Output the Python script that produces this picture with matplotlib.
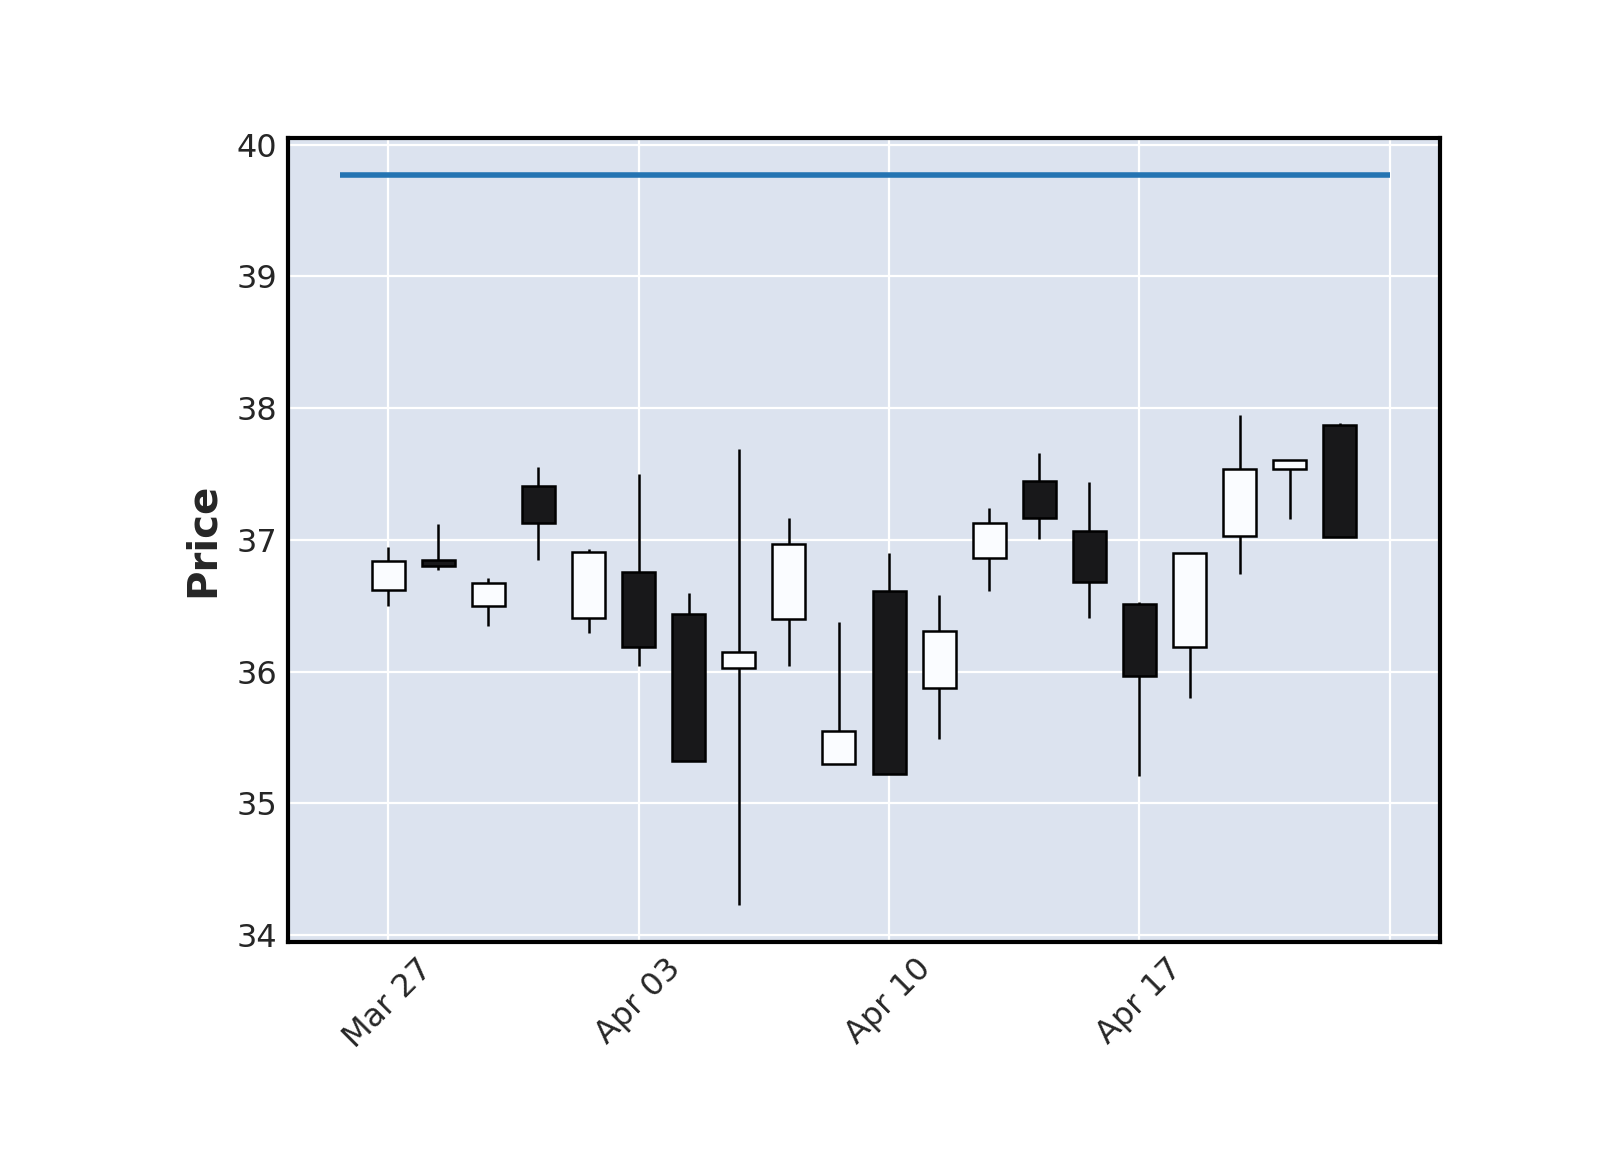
import numpy as np
import pandas as pd
import matplotlib
matplotlib.use("Agg")
import matplotlib.pyplot as plt

# === daily OHLC data ===
dates = pd.bdate_range("2017-03-27", periods=20)
opens = [36.62, 36.85, 36.50, 37.41, 36.41, 36.76, 36.44, 36.03, 36.40, 35.30,
         36.61, 35.88, 36.86, 37.45, 37.07, 36.51, 36.19, 37.03, 37.54, 37.87]
highs = [36.95, 37.12, 36.71, 37.55, 36.93, 37.50, 36.60, 37.69, 37.17, 36.38,
         36.90, 36.58, 37.24, 37.66, 37.44, 36.53, 36.90, 37.95, 37.61, 37.89]
lows = [36.50, 36.77, 36.35, 36.85, 36.29, 36.04, 35.32, 34.23, 36.04, 35.30,
        35.22, 35.49, 36.61, 37.01, 36.41, 35.21, 35.80, 36.74, 37.16, 37.02]
closes = [36.84, 36.80, 36.67, 37.13, 36.91, 36.19, 35.32, 36.15, 36.97, 35.55,
          35.22, 36.31, 37.13, 37.17, 36.68, 35.97, 36.90, 37.54, 37.61, 37.02]
level = 39.77
tick_idx = [0, 5, 10, 15, 20]

# === plot ===
fig = plt.figure(figsize=(16, 11.5), dpi=100)
ax = fig.add_axes([0.18, 0.181, 0.72, 0.699])
ax.set_facecolor("#DCE3EF")

x = np.arange(len(dates))
o = np.array(opens)
c = np.array(closes)
up = c >= o

ax.vlines(x, lows, highs, color="k", linewidth=1.8, zorder=2)
ax.bar(x, np.abs(c - o), bottom=np.minimum(o, c), width=0.66,
       color=np.where(up, "#FAFCFF", "#18181A"), edgecolor="k",
       linewidth=1.8, zorder=3)

ax.plot([-0.96, 20], [level, level], color="#2474b2", linewidth=4,
        solid_capstyle="butt", zorder=4)

ax.set_xlim(-2.0, 21.0)
ax.set_ylim(33.95, 40.05)
ax.set_xticks(tick_idx)
labels = [dates[i].strftime("%b %d") if i < len(dates) else "" for i in tick_idx]
ax.set_xticklabels(labels, rotation=45)
ax.set_yticks(range(34, 41))

ax.grid(True, color="white", linewidth=1.6)
ax.set_axisbelow(True)
ax.tick_params(length=0, labelsize=23, labelcolor="#262626", pad=8)
ax.set_ylabel("Price", fontsize=29, fontweight="bold", color="#262626", labelpad=10)
for s in ax.spines.values():
    s.set_linewidth(3)
    s.set_color("black")

fig.savefig("out.png", dpi=100)
